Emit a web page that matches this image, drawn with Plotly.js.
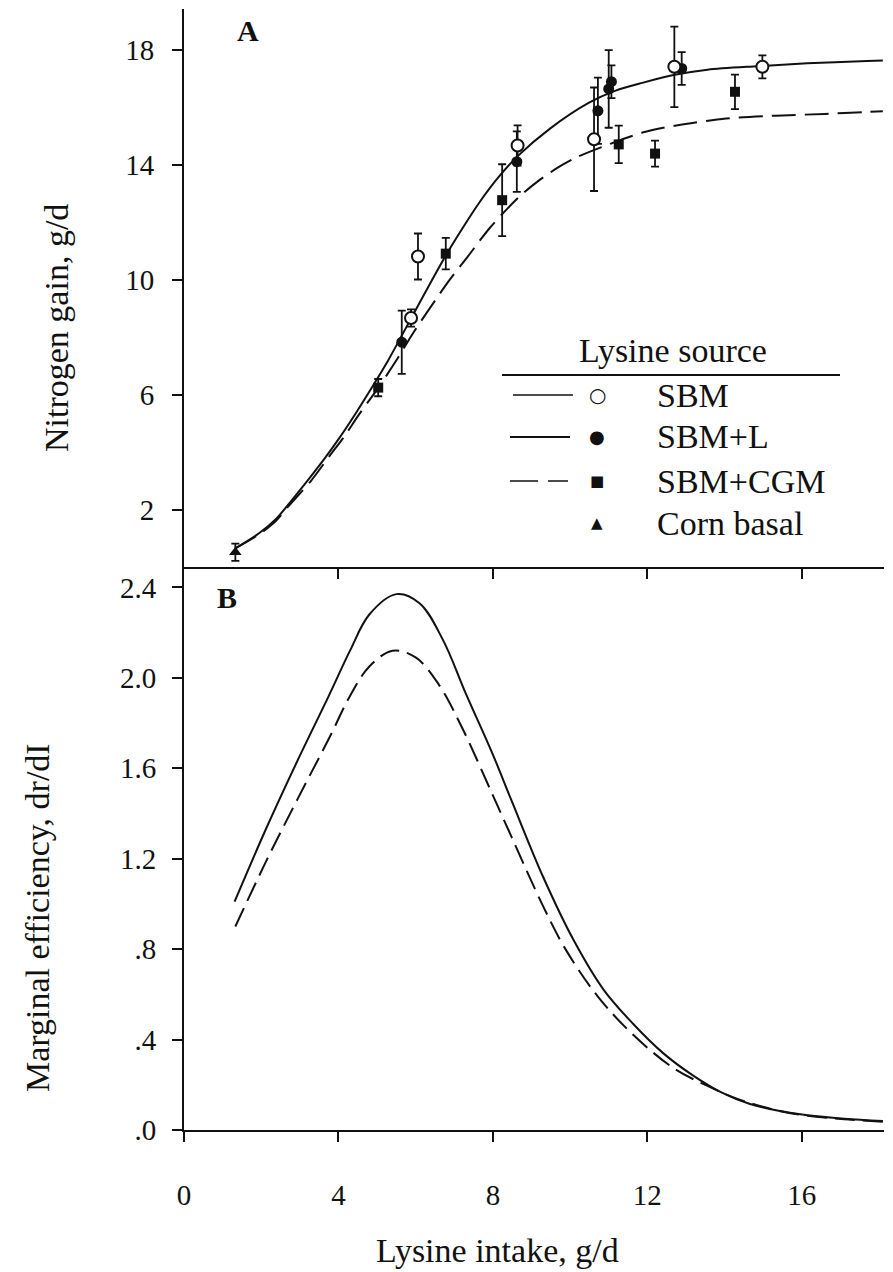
<!DOCTYPE html>
<html>
<head>
<meta charset="utf-8">
<script src="https://cdn.plot.ly/plotly-3.0.1.min.js"></script>
<style>html,body{margin:0;padding:0;background:#fff;}#chart{width:893px;height:1272px;}</style>
</head>
<body>
<div id="chart"></div>
<script>
// ---------- Panel A: nitrogen gain (g/d) vs lysine intake (g/d) ----------
const sbmX   = [5.88, 6.06, 8.64, 10.62, 12.70, 14.98];
const sbmY   = [8.66, 10.80, 14.66, 14.88, 17.40, 17.40];
const sbmErr = [0.30, 0.80, 0.70, 1.80, 1.40, 0.40];

const sbmLX   = [5.64, 8.62, 10.72, 11.00, 11.07, 12.89];
const sbmLY   = [7.82, 14.10, 15.87, 16.63, 16.88, 17.34];
const sbmLErr = [1.10, 1.05, 1.15, 1.35, 0.57, 0.57];

const cgmX   = [5.03, 6.78, 8.24, 11.26, 12.20, 14.27];
const cgmY   = [6.24, 10.90, 12.76, 14.70, 14.38, 16.53];
const cgmErr = [0.30, 0.55, 1.25, 0.65, 0.45, 0.60];

const cornX   = [1.33];
const cornY   = [0.51];
const cornErr = [0.30];

// fitted response curves
const fitSolidX = [1.33, 1.96, 2.39, 2.79, 3.21, 3.63, 4.03, 4.45, 4.87, 5.26, 5.60, 5.87, 6.41, 6.83, 7.23, 7.65, 8.14, 8.65, 9.48, 10.49, 11.18, 11.87, 12.71, 13.56, 14.85, 16.14, 17.69, 18.10];
const fitSolidY = [0.65, 1.19, 1.68, 2.32, 3.02, 3.75, 4.50, 5.35, 6.25, 7.12, 7.95, 8.62, 9.95, 10.95, 11.82, 12.68, 13.55, 14.30, 15.25, 16.15, 16.57, 16.84, 17.12, 17.30, 17.42, 17.52, 17.60, 17.62];
const fitDashX  = [1.33, 1.96, 2.39, 2.71, 3.29, 3.79, 4.14, 4.53, 5.03, 5.53, 5.94, 6.86, 7.35, 7.93, 8.68, 9.18, 9.69, 10.20, 11.04, 11.90, 12.75, 14.04, 15.33, 16.60, 17.73, 18.10];
const fitDashY  = [0.65, 1.15, 1.62, 2.12, 3.00, 3.90, 4.52, 5.30, 6.23, 7.25, 8.15, 9.95, 10.80, 11.81, 12.88, 13.43, 13.90, 14.27, 14.72, 15.12, 15.36, 15.60, 15.70, 15.76, 15.83, 15.85];

// ---------- Panel B: marginal efficiency dr/dI ----------
const effSolidX = [1.31, 2.12, 2.93, 3.75, 4.30, 4.80, 5.50, 6.10, 6.70, 7.30, 8.00, 8.50, 9.30, 10.09, 10.87, 11.63, 12.41, 13.15, 13.93, 14.66, 15.40, 16.15, 17.10, 18.10];
const effSolidY = [1.01, 1.33, 1.63, 1.92, 2.12, 2.28, 2.37, 2.33, 2.17, 1.93, 1.66, 1.45, 1.12, 0.84, 0.62, 0.47, 0.34, 0.245, 0.165, 0.115, 0.085, 0.065, 0.05, 0.04];
const effDashX  = [1.33, 2.16, 2.96, 3.78, 4.30, 4.80, 5.40, 6.00, 6.60, 7.20, 8.00, 8.50, 9.30, 9.88, 10.72, 11.64, 12.71, 13.50, 14.30, 15.40, 16.15, 17.10, 18.10];
const effDashY  = [0.90, 1.20, 1.47, 1.74, 1.92, 2.05, 2.12, 2.09, 1.97, 1.78, 1.48, 1.29, 0.99, 0.80, 0.59, 0.42, 0.27, 0.20, 0.14, 0.085, 0.063, 0.048, 0.037];

// ---------- tick labels ----------
const xTicks      = [0, 4, 8, 12, 16];
const topXTicks   = [4, 8, 12, 16];
const gainTicks   = [2, 6, 10, 14, 18];
const effTicks    = [0, 0.4, 0.8, 1.2, 1.6, 2.0, 2.4];
const effTickText = ['.0', '.4', '.8', '1.2', '1.6', '2.0', '2.4'];

const legendNames = ['SBM', 'SBM+L', 'SBM+CGM', 'Corn basal'];

const SERIF = 'Liberation Serif';
const INK = '#111';

function errBars(arr) {
  return {type: 'data', array: arr, visible: true, color: INK, thickness: 1.8, width: 4};
}

const traces = [
  {x: fitSolidX, y: fitSolidY, xaxis: 'x2', yaxis: 'y2', mode: 'lines', line: {color: INK, width: 2, shape: 'spline', smoothing: 0.8}, hoverinfo: 'skip'},
  {x: fitDashX, y: fitDashY, xaxis: 'x2', yaxis: 'y2', mode: 'lines', line: {color: INK, width: 2, dash: '24px,9px', shape: 'spline', smoothing: 0.8}, hoverinfo: 'skip'},
  {x: cgmX, y: cgmY, error_y: errBars(cgmErr), xaxis: 'x2', yaxis: 'y2', mode: 'markers', name: legendNames[2], marker: {symbol: 'square', size: 10, color: INK}},
  {x: sbmLX, y: sbmLY, error_y: errBars(sbmLErr), xaxis: 'x2', yaxis: 'y2', mode: 'markers', name: legendNames[1], marker: {symbol: 'circle', size: 11, color: INK}},
  {x: sbmX, y: sbmY, error_y: errBars(sbmErr), xaxis: 'x2', yaxis: 'y2', mode: 'markers', name: legendNames[0], marker: {symbol: 'circle', size: 12, color: '#fff', line: {color: INK, width: 2}}},
  {x: cornX, y: cornY, error_y: errBars(cornErr), xaxis: 'x2', yaxis: 'y2', mode: 'markers', name: legendNames[3], marker: {symbol: 'triangle-up', size: 11, color: INK}},
  {x: effSolidX, y: effSolidY, xaxis: 'x', yaxis: 'y', mode: 'lines', line: {color: INK, width: 2, shape: 'spline', smoothing: 1}, hoverinfo: 'skip'},
  {x: effDashX, y: effDashY, xaxis: 'x', yaxis: 'y', mode: 'lines', line: {color: INK, width: 2, dash: '20px,8px', shape: 'spline', smoothing: 1}, hoverinfo: 'skip'}
];

const axisCommon = {
  showline: true, linecolor: INK, linewidth: 2, ticks: 'outside', ticklen: 10, tickwidth: 2, tickcolor: INK,
  showgrid: false, zeroline: false, tickfont: {family: SERIF, size: 29, color: INK}
};

// helpers: pixel -> paper for the decorations (legend, panel letters)
const L = 184, R = 9, T = 9, B = 142, W = 893, H = 1272;
const px = v => (v - L) / (W - L - R);
const py = v => (H - B - v) / (H - T - B);
const split = py(567);

function note(text, x, y, size, extra) {
  return Object.assign({text: text, x: px(x), y: py(y), xref: 'paper', yref: 'paper', xanchor: 'center', yanchor: 'middle',
    showarrow: false, font: {family: SERIF, size: size, color: INK}}, extra || {});
}

const legendRows = [395, 437, 481, 523];
const annotations = [
  note('<b>A</b>', 248, 31, 30),
  note('<b>B</b>', 227, 598, 30),
  note('Nitrogen gain, g/d', 57, 328, 34, {textangle: -90}),
  note('Marginal efficiency, dr/dI', 37, 918, 34, {textangle: -90}),
  note('Lysine intake, g/d', 497, 1250, 34),
  note('Lysine source', 673, 350, 34)
];
const glyphs = ['\u25CB', '\u25CF', '\u25A0', '\u25B2'];
const glyphSize = [20, 18, 15, 15];
legendNames.forEach((n, i) => {
  annotations.push(note(glyphs[i], 597, legendRows[i], glyphSize[i], {font: {family: 'DejaVu Sans', size: glyphSize[i], color: INK}}));
  annotations.push(note(n, 655, legendRows[i], 34, {xanchor: 'left'}));
});

const shapes = [
  {type: 'line', xref: 'paper', yref: 'paper', x0: px(502), x1: px(840), y0: py(375), y1: py(375), line: {color: INK, width: 2}},
  {type: 'line', xref: 'paper', yref: 'paper', x0: px(513), x1: px(573), y0: py(395), y1: py(395), line: {color: INK, width: 1.6}},
  {type: 'line', xref: 'paper', yref: 'paper', x0: px(510), x1: px(570), y0: py(437), y1: py(437), line: {color: INK, width: 2}},
  {type: 'line', xref: 'paper', yref: 'paper', x0: px(510), x1: px(568), y0: py(481), y1: py(481), line: {color: INK, width: 1.6, dash: '28px,10px'}}
];

const layout = {
  width: W, height: H,
  margin: {l: L, r: R, t: T, b: B},
  paper_bgcolor: '#fff', plot_bgcolor: '#fff',
  showlegend: false,
  font: {family: SERIF, color: INK},
  xaxis: Object.assign({}, axisCommon, {domain: [0, 1], anchor: 'y', range: [0, 18.13], tickvals: xTicks, ticklabelstandoff: 28}),
  yaxis: Object.assign({}, axisCommon, {domain: [0, split], anchor: 'x', range: [0, 2.49], tickvals: effTicks, ticktext: effTickText, ticklabelstandoff: 10}),
  xaxis2: Object.assign({}, axisCommon, {domain: [0, 1], anchor: 'y2', matches: 'x', range: [0, 18.13], tickvals: topXTicks, showticklabels: false}),
  yaxis2: Object.assign({}, axisCommon, {domain: [split, 1], anchor: 'x2', range: [0, 19.41], tickvals: gainTicks, ticklabelstandoff: 12}),
  annotations: annotations,
  shapes: shapes
};

Plotly.newPlot('chart', traces, layout, {staticPlot: true, displayModeBar: false});
</script>
</body>
</html>
